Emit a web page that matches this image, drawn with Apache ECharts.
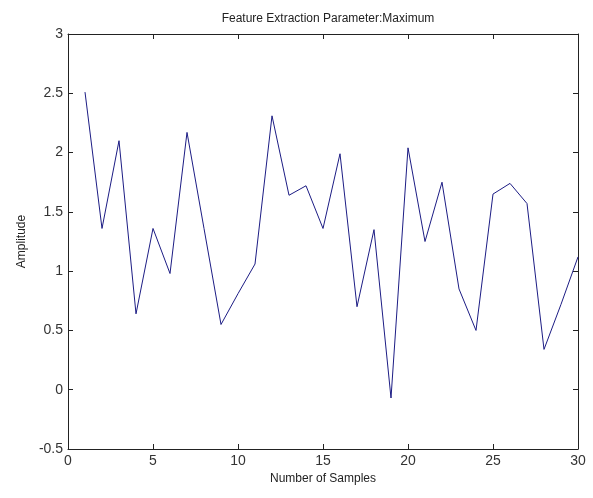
<!DOCTYPE html>
<html>
<head>
<meta charset="utf-8">
<script src="https://cdn.jsdelivr.net/npm/echarts@6/dist/echarts.min.js"></script>
<style>
  html, body { margin: 0; padding: 0; background: #fff; }
  #chart { width: 593px; height: 498px; }
</style>
</head>
<body>
<div id="chart"></div>
<script>
// sample numbers and the amplitude
var samples = [1, 2, 3, 4, 5, 6, 7, 8, 9, 10, 11, 12, 13, 14, 15, 16, 17, 18, 19, 20, 21, 22, 23, 24, 25, 26, 27, 28, 29, 30];
var amplitude = [2.51, 1.36, 2.10, 0.64, 1.36, 0.98, 2.17, 1.36, 0.55, 0.81, 1.06, 2.31, 1.64, 1.72, 1.36, 1.99, 0.70, 1.35, -0.07, 2.04, 1.25, 1.75, 0.85, 0.50, 1.65, 1.74, 1.57, 0.34, 0.72, 1.12];

var font = '"Liberation Sans", Arial, sans-serif';

var chart = echarts.init(document.getElementById('chart'));

var boxAxis = {
    axisLine: { show: true, onZero: false, lineStyle: { color: '#222', width: 1 } },
    axisTick: { show: true, inside: true, length: 5, lineStyle: { color: '#222' } },
    splitLine: { show: false }
};

var option = {
    animation: false,
    backgroundColor: '#fff',
    title: {
        text: 'Feature Extraction Parameter:Maximum',
        left: 323, top: 8, textAlign: 'center',
        textStyle: { fontFamily: font, fontSize: 12, fontWeight: 'normal', color: '#222' }
    },
    grid: { left: 68, right: 15, top: 34, bottom: 49 },
    xAxis: [
        Object.assign({
            type: 'value', min: 0, max: 30, interval: 5,
            name: 'Number of Samples', nameLocation: 'middle', nameGap: 24,
            nameTextStyle: { fontFamily: font, fontSize: 12, color: '#222' },
            axisLabel: { fontFamily: font, fontSize: 14, color: '#333', margin: 5 }
        }, boxAxis),
        Object.assign({
            type: 'value', min: 0, max: 30, interval: 5, position: 'top',
            axisLabel: { show: false }
        }, boxAxis)
    ],
    yAxis: [
        Object.assign({
            type: 'value', min: -0.5, max: 3, interval: 0.5,
            name: 'Amplitude', nameLocation: 'middle', nameGap: 39,
            nameTextStyle: { fontFamily: font, fontSize: 12, color: '#222' },
            axisLabel: { fontFamily: font, fontSize: 14, color: '#333', margin: 5 }
        }, boxAxis),
        Object.assign({
            type: 'value', min: -0.5, max: 3, interval: 0.5, position: 'right',
            axisLabel: { show: false }
        }, boxAxis)
    ],
    series: [{
        type: 'line',
        data: samples.map(function (s, i) { return [s, amplitude[i]]; }),
        showSymbol: false,
        lineStyle: { color: '#1c1c84', width: 1 },
        itemStyle: { color: '#1c1c84' }
    }]
};

chart.setOption(option);
</script>
</body>
</html>
